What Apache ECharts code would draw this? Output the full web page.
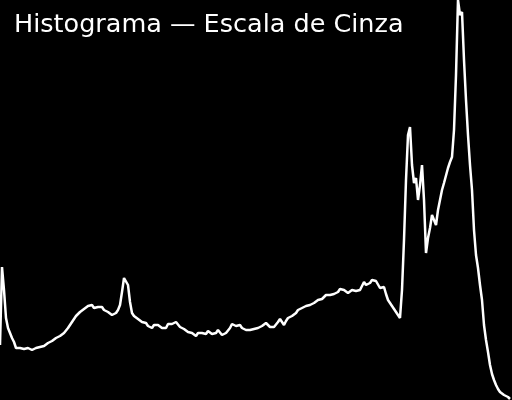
<!DOCTYPE html>
<html>
<head>
<meta charset="utf-8">
<script src="https://cdn.jsdelivr.net/npm/echarts@6/dist/echarts.min.js"></script>
<style>html,body{margin:0;padding:0;background:#000;}#c{width:512px;height:400px;}</style>
</head>
<body>
<div id="c"></div>
<script>
const titleText = "Histograma — Escala de Cinza";
const bins = Array.from({length: 256}, (_, i) => String(i));
const counts = [
55,133,110,82,72,67,62,58,52,50,52,53,51,53,52,51,50,51,52,54,
53,55,54,56,57,58,59,60,62,63,64,65,67,68,72,75,78,81,84,85,
88,89,91,92,94,93,95,92,91,93,91,93,90,89,88,87,85,86,87,90,
95,108,122,124,115,98,87,84,82,81,79,78,76,77,74,73,72,75,77,75,
73,72,70,72,76,77,76,75,78,76,73,72,71,69,68,70,67,66,64,67,
68,67,68,66,69,68,66,68,67,70,68,65,64,67,69,72,76,77,74,73,
75,72,73,70,68,70,69,71,70,72,73,74,76,77,75,73,74,73,74,78,
81,82,75,79,82,81,84,85,87,90,90,92,91,94,95,95,96,97,98,100,
100,101,103,105,104,105,105,106,107,108,111,112,110,108,107,109,110,110,109,108,
110,114,118,115,113,117,120,121,119,117,112,110,113,106,100,97,95,91,88,85,
82,110,160,220,265,273,235,217,222,200,215,235,200,147,162,172,185,180,175,190,
200,210,217,219,232,238,243,270,325,400,385,388,340,300,265,235,210,170,145,132,
115,100,75,60,48,35,26,20,15,11,8,7,5,4,3,1
];
const chart = echarts.init(document.getElementById('c'), null, {renderer: 'canvas'});
chart.setOption({
  backgroundColor: '#000',
  animation: false,
  title: {
    text: titleText,
    left: 9, top: 7,
    textStyle: {color: '#fff', fontFamily: 'DejaVu Sans', fontWeight: 'normal', fontSize: 25.5}
  },
  grid: {left: 0, right: 2, top: 0, bottom: 0},
  xAxis: {type: 'category', data: bins, boundaryGap: false, show: false},
  yAxis: {type: 'value', min: 0, max: 400, show: false},
  series: [{
    type: 'line', data: counts, showSymbol: false, symbol: 'none',
    lineStyle: {color: '#fff', width: 2.5}, clip: false
  }]
});
</script>
</body>
</html>
